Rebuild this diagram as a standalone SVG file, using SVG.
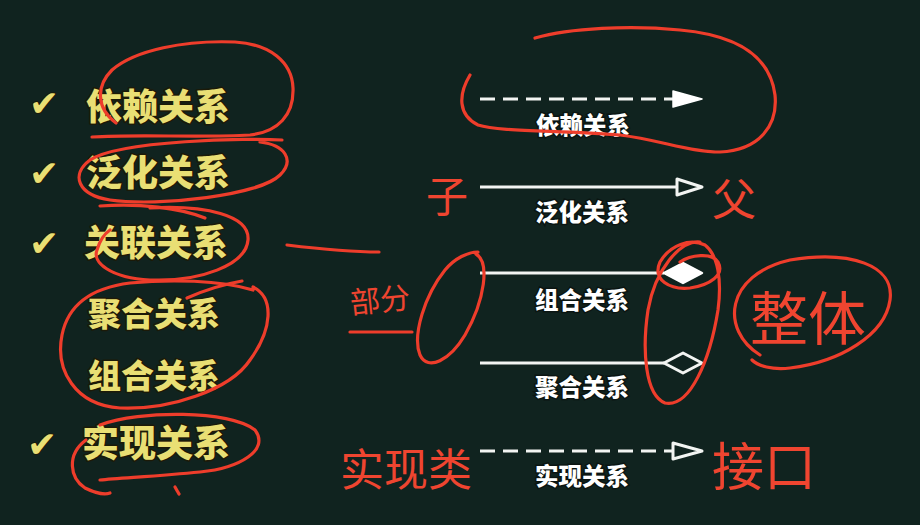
<svg xmlns="http://www.w3.org/2000/svg" width="920" height="525" viewBox="0 0 920 525">
<defs>
<style>
.bg{fill:#10231f}
.item{font-family:"Noto Sans CJK SC","Noto Sans",sans-serif;font-weight:900;fill:#e9df74;stroke:#1c1a08;stroke-width:3;paint-order:stroke;stroke-linejoin:round}
.chk{font-family:"DejaVu Sans",sans-serif;fill:#e9df74;font-size:36px;stroke:#1c1a08;stroke-width:2;paint-order:stroke}
.lab{font-family:"Noto Sans CJK SC","Noto Sans",sans-serif;font-weight:900;font-size:23.5px;fill:#ffffff;stroke:#0b1512;stroke-width:3;paint-order:stroke;text-anchor:middle}
.ln{stroke:#f2f4f2;stroke-width:3;fill:none}
.dash{stroke-dasharray:15 8}
.red{stroke:#ee3d2b;stroke-width:3.2;fill:none;stroke-linecap:round;stroke-linejoin:round}
.hw{font-family:"Noto Sans CJK SC",sans-serif;font-weight:400;fill:#ef4530}
</style>
</defs>
<rect class="bg" x="0" y="0" width="920" height="525"/>

<g id="list">
<g id="item-yilai"><text class="chk" x="29" y="116">✔</text><text class="item" x="86" y="120" font-size="36">依赖关系</text></g>
<g id="item-fanhua"><text class="chk" x="29" y="186">✔</text><text class="item" x="86" y="186" font-size="36">泛化关系</text></g>
<g id="item-guanlian"><text class="chk" x="29" y="256">✔</text><text class="item" x="84" y="256" font-size="36">关联关系</text></g>
<g id="item-juhe"><text class="item" x="88" y="326" font-size="33">聚合关系</text></g>
<g id="item-zuhe"><text class="item" x="88" y="388" font-size="33">组合关系</text></g>
<g id="item-shixian"><text class="chk" x="27" y="457">✔</text><text class="item" x="82" y="457" font-size="37">实现关系</text></g>
</g>

<g id="connectors">
<line class="ln dash" x1="480" y1="99" x2="674" y2="99"/>
<path d="M673,91 L702,99 L673,107 Z" fill="#ffffff" stroke="#ffffff" stroke-width="1.5" stroke-linejoin="round"/>
<line class="ln" x1="480" y1="187" x2="677" y2="187"/>
<path d="M677,179 L702,187 L677,195 Z" fill="#10231f" stroke="#f2f4f2" stroke-width="3" stroke-linejoin="round"/>
<line class="ln" x1="480" y1="273" x2="664" y2="273"/>
<path d="M664,273 L683,263 L702,273 L683,283 Z" fill="#ffffff" stroke="#ffffff" stroke-width="2.5" stroke-linejoin="round"/>
<line class="ln" x1="480" y1="363" x2="664" y2="363"/>
<path d="M664,363 L683,353 L702,363 L683,373 Z" fill="#10231f" stroke="#f2f4f2" stroke-width="3" stroke-linejoin="round"/>
<line class="ln dash" x1="480" y1="451" x2="672" y2="451"/>
<path d="M673,443 L702,451 L673,459 Z" fill="#10231f" stroke="#f2f4f2" stroke-width="3" stroke-linejoin="round"/>
</g>

<g id="labels">
<g id="lab-yilai"><text class="lab" x="583" y="134">依赖关系</text></g>
<g id="lab-fanhua"><text class="lab" x="582" y="221">泛化关系</text></g>
<g id="lab-zuhe"><text class="lab" x="582" y="309">组合关系</text></g>
<g id="lab-juhe"><text class="lab" x="582" y="396">聚合关系</text></g>
<g id="lab-shixian"><text class="lab" x="582" y="485">实现关系</text></g>
</g>

<g id="annotations">
<path class="red" d="M116,123 C96,108 96,86 112,70 C135,50 185,40 235,42 C270,44 292,62 293,88 C294,115 278,132 250,135 C200,138 140,134 92,137"/>
<path class="red" d="M282,140 C250,138 120,140 90,160 C70,175 78,195 110,200 C160,207 260,195 280,175 C295,160 285,145 260,142"/>
<path class="red" d="M100,206 C140,203 180,208 205,218"/>
<path class="red" d="M150,208 C205,205 250,215 248,240 C246,265 200,282 150,280 C110,278 92,262 97,250 C100,240 104,234 110,230"/>
<path class="red" d="M253,287 C275,298 272,330 250,360 C230,390 170,410 120,408 C75,405 55,370 62,335 C68,305 90,288 130,283 C170,279 220,280 253,290"/>
<path class="red" d="M187,298 C205,290 225,284 242,281"/>
<path class="red" d="M100,425 C140,410 230,410 255,430 C270,450 240,468 200,472 C160,476 120,478 100,480"/>
<path class="red" d="M86,440 C66,455 70,478 85,488 C95,493 105,495 110,493"/>
<path class="red" d="M175,487 L179,494"/>
<path class="red" d="M287,245 C320,249 355,252 379,252"/>
<path class="red" d="M350,332 L412,332"/>
<path class="red" d="M476,254 C490,262 485,300 465,335 C450,360 428,372 420,355 C412,335 425,295 445,270 C455,258 468,252 478,252"/>
<path class="red" d="M470,75 C458,95 458,115 478,125 C500,132 560,130 620,135 C660,140 690,152 720,152 C760,150 778,125 775,95 C770,55 735,35 680,30 C630,25 570,28 535,38"/>
<path class="red" d="M700,242 C680,240 655,270 648,310 C642,350 645,395 665,403 C690,408 710,360 718,310 C722,280 718,255 705,245 C690,238 670,245 660,262 C652,280 670,290 690,288 C710,285 725,275 718,262 C712,252 690,255 680,262"/>
<path class="red" d="M760,355 C720,330 725,275 790,260 C850,250 895,265 890,300 C885,335 840,362 790,368 C772,370 758,366 752,360"/>
<text class="hw" x="426" y="212" font-size="42">子</text>
<text class="hw" x="712" y="216" font-size="44">父</text>
<text class="hw" x="350" y="312" font-size="30" transform="rotate(-6 370 300)">部分</text>
<text class="hw" x="750" y="340" font-size="58">整体</text>
<text class="hw" x="340" y="486" font-size="44">实现类</text>
<text class="hw" x="712" y="486" font-size="52">接口</text>
</g>
</svg>
